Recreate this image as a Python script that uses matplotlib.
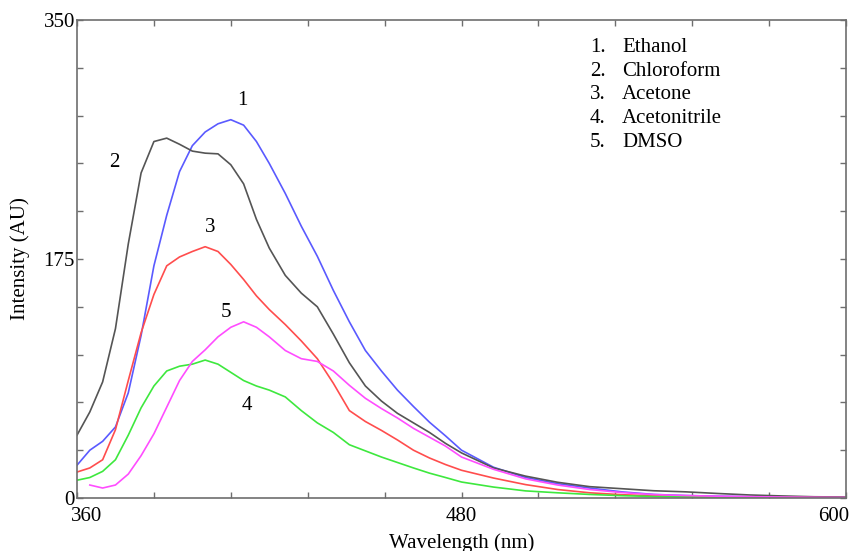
#!/usr/bin/env python3
import numpy as np
import matplotlib
matplotlib.use("Agg")
import matplotlib.pyplot as plt
from matplotlib.ticker import FixedLocator, MultipleLocator
from matplotlib.transforms import ScaledTranslation

plt.rcParams["font.family"] = ["Liberation Serif", "DejaVu Serif"]
plt.rcParams["font.size"] = 15

# Emission spectra (intensity in AU)
wavelength = [360, 364, 368, 372, 376, 380, 384, 388, 392, 396, 400, 404, 408, 412, 416, 420,
              425, 430, 435, 440, 445, 450, 455, 460, 465, 470, 475, 480, 490, 500, 510, 520,
              530, 540, 550, 560, 570, 580, 590, 600]

ethanol = [24, 35, 41.5, 52, 77, 119, 170, 207, 239, 258, 268, 274, 277, 273, 261, 245,
           223, 199, 177, 152, 129, 108, 93, 79, 67, 55.5, 45.5, 35, 22.5, 15, 10.5, 7.3,
           4.5, 2.6, 1.8, 1.3, 1.0, 0.8, 0.6, 0.5]
chloroform = [46, 63, 85, 124, 186, 238, 261, 263.5, 259, 254, 252.5, 252, 244, 230, 204, 183,
              163, 150, 140, 120, 99, 82, 71, 62, 55, 48, 40, 33, 22, 16, 11.5, 8.3,
              6.8, 5.3, 4.5, 3.3, 2.2, 1.5, 0.9, 0.7]
acetone = [19, 22, 28, 50, 86, 121, 149, 170, 176.5, 180.5, 184, 180.5, 171, 160, 148, 138,
           127, 115, 102, 84, 64, 56, 49.5, 42.5, 35, 29.3, 24.5, 20.3, 14.6, 9.8, 6.2, 3.8,
           2.4, 1.6, 1.1, 0.8, 0.6, 0.4, 0.3, 0.3]
acetonitrile = [13, 15, 19.5, 28, 46, 66, 82, 93, 96.5, 98, 101, 98, 92, 86, 82, 79,
                74, 64, 55, 48, 39, 34.5, 30, 26, 22, 18.2, 15, 11.7, 8, 5.2, 3.8, 2.6,
                1.7, 1.1, 0.8, 0.5, 0.4, 0.3, 0.2, 0.2]
dmso = [np.nan, 9.5, 7.3, 9.5, 17.5, 31, 47, 66.5, 86, 100, 108.5, 118, 125, 129, 125, 118,
        108, 102, 100, 93, 82.5, 73, 65.5, 58.6, 51, 44.5, 38, 30, 21, 14, 9.5, 6.2,
        4, 2.5, 1.8, 1.3, 1.0, 0.7, 0.5, 0.4]

solvents = ["Ethanol", "Chloroform", "Acetone", "Acetonitrile", "DMSO"]
colors = ["#5a5aff", "#555555", "#ff4d4d", "#3ee83e", "#ff4dff"]

# curve number labels (wavelength, intensity)
label_pos = [(411.6, 291), (371.6, 246), (401.6, 198), (413.1, 68), (406.6, 136)]

fig = plt.figure(figsize=(8.49, 5.51), dpi=100)
ax = fig.add_axes([0.0907, 0.0962, 0.9058, 0.8675])

series = [ethanol, chloroform, acetone, acetonitrile, dmso]
for values, color in zip(series, colors):
    ax.plot(wavelength, values, color=color, linewidth=1.2)

for i, (x, y) in enumerate(label_pos):
    ax.text(x, y, str(i + 1), ha="center", va="center")

# Text legend in the upper right corner
for i, name in enumerate(solvents):
    y = 0.9435 - i * 0.0502
    ax.text(0.667, y, f"{i + 1}.", transform=ax.transAxes, va="center")
    ax.text(0.709, y, name, transform=ax.transAxes, va="center")

ax.set_xlim(360, 600)
ax.set_ylim(0, 350)
ax.xaxis.set_major_locator(FixedLocator([360, 480, 600]))
ax.xaxis.set_minor_locator(MultipleLocator(24))
ax.yaxis.set_major_locator(FixedLocator([0, 175, 350]))
ax.yaxis.set_minor_locator(MultipleLocator(35))

for spine in ax.spines.values():
    spine.set_color("#6e6e6e")
    spine.set_linewidth(1.2)

ax.tick_params(which="both", direction="in", top=True, right=True, length=4,
               width=1, color="#6e6e6e", labelcolor="black")
ax.tick_params(axis="x", pad=6.5)
ax.tick_params(axis="y", pad=1.5)

ax.set_xlabel("Wavelength (nm)")
ax.set_ylabel("Intensity (AU)")
ax.xaxis.set_label_coords(0.5006, -0.073)
ax.yaxis.set_label_coords(-0.061, 0.5)

# nudge the end labels of the x axis inward like the original
xlabels = ax.get_xticklabels()
shifts = [10, 0, -12]
for lab, dx in zip(xlabels, shifts):
    lab.set_transform(lab.get_transform() + ScaledTranslation(dx / 100, 0, fig.dpi_scale_trans))

fig.savefig("out.png", dpi=100)
